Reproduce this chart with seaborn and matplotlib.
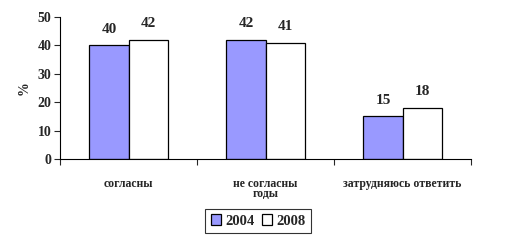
import matplotlib
matplotlib.use("Agg")
import matplotlib.pyplot as plt
import seaborn as sns
import pandas as pd

categories = ["согласны", "не согласны\nгоды", "затрудняюсь ответить"]
years = ["2004", "2008"]
values_2004 = [40, 42, 15]
values_2008 = [42, 41, 18]
yticks = [0, 10, 20, 30, 40, 50]

df = pd.DataFrame({
    "cat": categories * 2,
    "year": [years[0]] * 3 + [years[1]] * 3,
    "val": values_2004 + values_2008,
})

sns.set_theme(style="white")
plt.rcParams["font.family"] = ["Liberation Serif", "DejaVu Serif"]
plt.rcParams["font.weight"] = "bold"

fig = plt.figure(figsize=(5.14, 2.43), dpi=100)
ax = fig.add_axes([60/514, 1-159/243, (471-60)/514, (159-17)/243])

sns.barplot(data=df, x="cat", y="val", hue="year", order=categories,
            hue_order=years, palette=["#9999FF", "#FFFFFF"], width=0.57,
            edgecolor="black", linewidth=0.9, saturation=1, ax=ax, legend=True)

for cont in ax.containers:
    ax.bar_label(cont, padding=7, fontsize=11, fontweight="bold")

ax.set_xlim(-0.5, 2.5)
ax.set_ylim(0, 50)
ax.set_yticks(yticks)
ax.set_yticklabels([str(t) for t in yticks], fontsize=10, fontweight="bold")
ax.set_xticks([-0.5, 0.5, 1.5, 2.5])
ax.set_xticklabels([])
ax.set_xticks([0, 1, 2], minor=True)
ax.set_xticklabels(categories, minor=True, fontsize=8.5, fontweight="bold",
                   linespacing=0.75, va="top")
ax.tick_params(axis="x", which="minor", length=0, pad=14)
ax.tick_params(axis="x", which="major", length=4, width=0.8, direction="out", bottom=True)
ax.tick_params(axis="y", length=4, width=0.8, direction="out", left=True, pad=2)
ax.set_xlabel("")
ax.set_ylabel("%", fontsize=10, fontweight="bold", labelpad=5)
for s in ["top", "right"]:
    ax.spines[s].set_visible(False)
for s in ["left", "bottom"]:
    ax.spines[s].set_color("black")
    ax.spines[s].set_linewidth(0.8)

h, l = ax.get_legend_handles_labels()
ax.get_legend().remove()
leg = fig.legend(h, l, loc="center", bbox_to_anchor=(258/514, 1-221/243), ncol=2,
                 frameon=True, fancybox=False, edgecolor="black",
                 prop={"size": 10.5, "weight": "bold", "family": "Liberation Serif"},
                 handlelength=0.7, handleheight=0.7, handletextpad=0.3,
                 columnspacing=0.5, borderpad=0.35, borderaxespad=0)
leg.get_frame().set_linewidth(0.8)

fig.savefig("out.png", dpi=100)
